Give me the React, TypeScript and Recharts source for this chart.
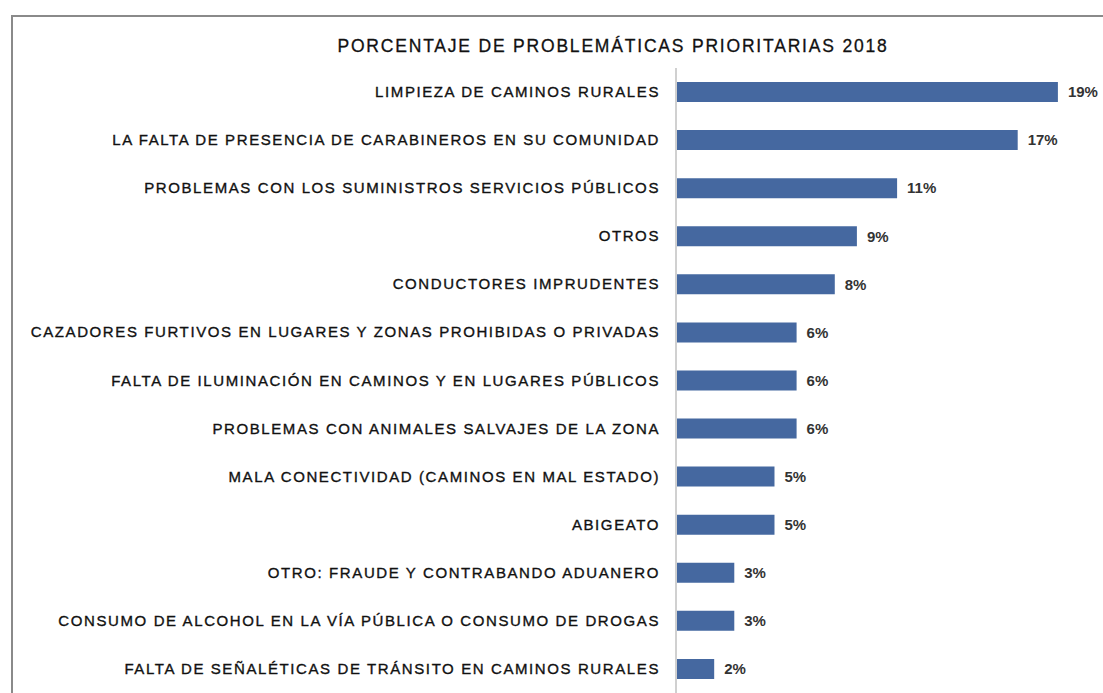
import React from 'react';
import { BarChart, Bar, XAxis, YAxis, LabelList } from 'recharts';

const categories = [
  'LIMPIEZA DE CAMINOS RURALES',
  'LA FALTA DE PRESENCIA DE CARABINEROS EN SU COMUNIDAD',
  'PROBLEMAS CON LOS SUMINISTROS SERVICIOS PÚBLICOS',
  'OTROS',
  'CONDUCTORES IMPRUDENTES',
  'CAZADORES FURTIVOS EN LUGARES Y ZONAS PROHIBIDAS O PRIVADAS',
  'FALTA DE ILUMINACIÓN EN CAMINOS Y EN LUGARES PÚBLICOS',
  'PROBLEMAS CON ANIMALES SALVAJES DE LA ZONA',
  'MALA CONECTIVIDAD (CAMINOS EN MAL ESTADO)',
  'ABIGEATO',
  'OTRO: FRAUDE Y CONTRABANDO ADUANERO',
  'CONSUMO DE ALCOHOL EN LA VÍA PÚBLICA O CONSUMO DE DROGAS',
  'FALTA DE SEÑALÉTICAS DE TRÁNSITO EN CAMINOS RURALES',
];

const percentages = [19, 17, 11, 9, 7.9, 6, 6, 6, 4.9, 4.9, 2.9, 2.9, 1.9];

const title = 'PORCENTAJE DE PROBLEMÁTICAS PRIORITARIAS 2018';

const data = categories.map((name, i) => ({ name, value: percentages[i] }));

const FONT = '"Liberation Sans", Arial, sans-serif';

const CategoryTick = ({ x, y, payload }: any) => (
  <text
    x={x}
    y={y}
    dy={5}
    textAnchor="end"
    fontSize={15}
    letterSpacing={1.6}
    fill="#111"
    stroke="#111"
    strokeWidth={0.35}
    fontFamily={FONT}
  >
    {payload.value}
  </text>
);

export default function App() {
  return (
    <div style={{ position: 'absolute', left: 0, top: 0, width: 1103, height: 693, background: '#fff', overflow: 'hidden' }}>
      <div
        style={{
          position: 'absolute',
          left: 11,
          top: 15,
          right: -2,
          bottom: -2,
          borderLeft: '2px solid #8a8a8a',
          borderTop: '2px solid #8a8a8a',
        }}
      />
      <div
        style={{
          position: 'absolute',
          left: 0,
          width: 1226,
          top: 36,
          textAlign: 'center',
          fontFamily: FONT,
          fontSize: 17.5,
          letterSpacing: 1.8,
          color: '#111',
          WebkitTextStroke: '0.3px #111',
        }}
      >
        {title}
      </div>
      <div style={{ position: 'absolute', left: 0, top: 0 }}>
        <BarChart
          width={1103}
          height={693}
          data={data}
          layout="vertical"
          margin={{ top: 68, right: 25, bottom: 0, left: 0 }}
          barCategoryGap={14}
        >
          <XAxis type="number" domain={[0, 20]} hide />
          <YAxis
            type="category"
            dataKey="name"
            width={676}
            tickLine={false}
            tickSize={0}
            tickMargin={16}
            axisLine={{ stroke: '#d0d0d0', strokeWidth: 2 }}
            tick={<CategoryTick />}
            interval={0}
          />
          <Bar dataKey="value" fill="#4568a0" isAnimationActive={false}>
            <LabelList
              dataKey="value"
              position="right"
              offset={10}
              formatter={(v: any) => `${Math.round(Number(v))}%`}
              style={{ fontFamily: FONT, fontSize: 15, fontWeight: 'bold', fill: '#333' }}
            />
          </Bar>
        </BarChart>
      </div>
    </div>
  );
}
